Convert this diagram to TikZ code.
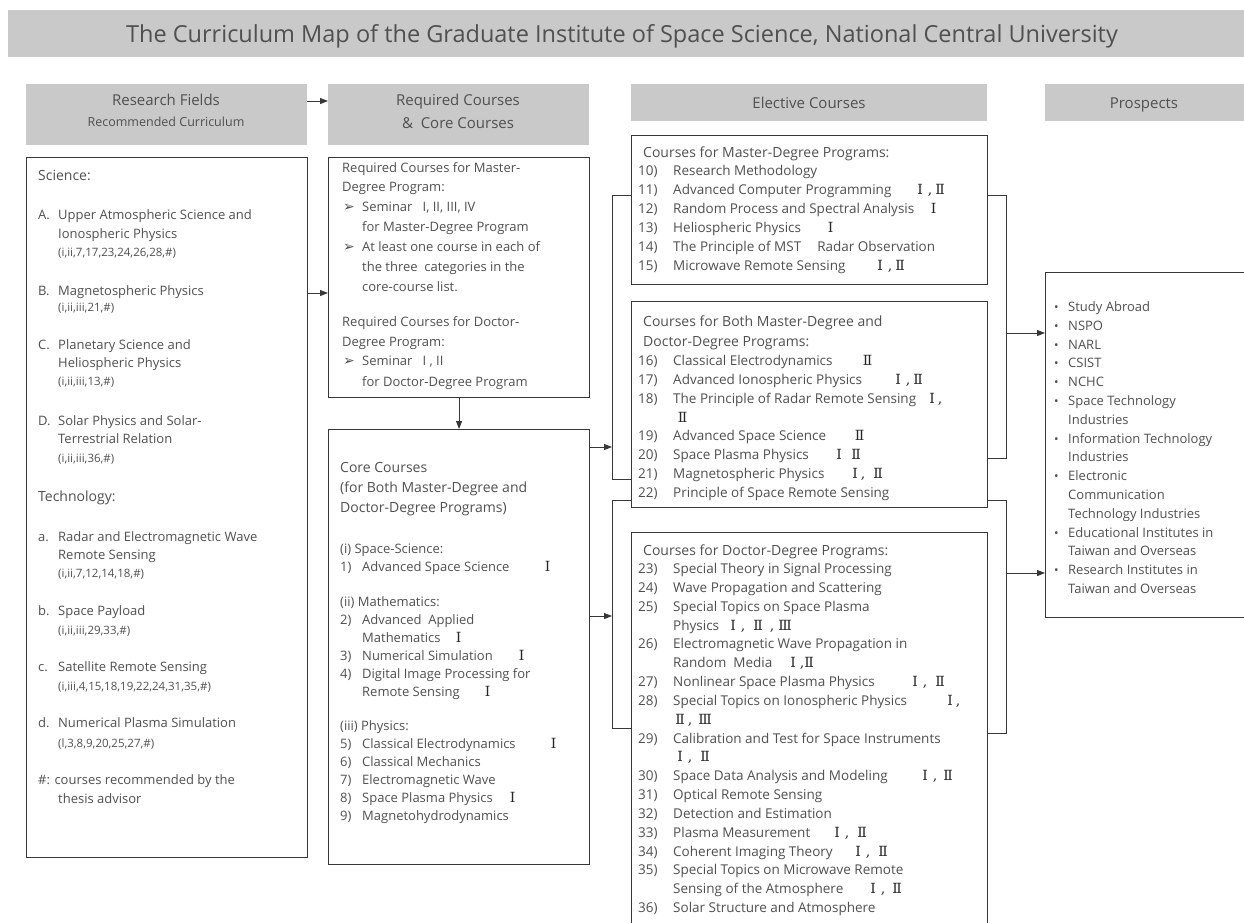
\documentclass[tikz,border=0pt]{standalone}
\usepackage{fontspec}
\setmainfont{Open Sans}
\newfontfamily\romf{DejaVu Serif}
\newfontfamily\symf{DejaVu Sans}
\usetikzlibrary{arrows.meta}
\definecolor{barc}{RGB}{201,201,201}
\definecolor{linec}{RGB}{55,55,55}
\definecolor{textc}{RGB}{80,80,80}
\newcommand\RN[1]{\makebox[0pt]{#1}}
\newcommand\NB[2]{\makebox[#1][l]{#2}}
\newcommand\arw{{\symf\fontsize{14}{14}\selectfont ➢}}
\newcommand\bul{\NB{14pt}{\fontsize{12}{12}\selectfont •}}
\begin{document}
\begin{tikzpicture}[x=1pt,y=-1pt,
 hdr/.style={fill=barc,draw=none,inner sep=0pt,anchor=north west},
 bx/.style={draw=linec,line width=1.1pt,fill=white,inner sep=0pt,anchor=north west},
 t/.style={anchor=base west,inner sep=0pt,text=textc,font=\fontsize{13}{15}\selectfont},
 ts/.style={t,font=\fontsize{11.5}{13}\selectfont},
 tb/.style={t,font=\fontsize{14}{16}\selectfont},
 te/.style={t,font=\fontsize{13.5}{15}\selectfont},
 th/.style={anchor=base,inner sep=0pt,text=textc,font=\fontsize{15}{17}\selectfont},
 rn/.style={anchor=base west,inner sep=0pt,text=black!85,font=\romf\fontsize{14}{15}\selectfont},
 conn/.style={draw=linec,line width=0.9pt},
 arr/.style={conn,-{Triangle[length=8pt,width=6pt]}}]

\path[use as bounding box] (0,0) rectangle (1244,922);

% title and headers
\node[hdr,minimum width=1252pt,minimum height=47pt] (title) at (8,10) {};
\node[anchor=base,inner sep=0pt,text=textc,font=\fontsize{23.5}{26}\selectfont] (ttl) at (622,42) {The Curriculum Map of the Graduate Institute of Space Science, National Central University};
\node[hdr,minimum width=281pt,minimum height=61pt] (hRF) at (26,84) {};
\node[hdr,minimum width=261pt,minimum height=61pt] (hRC) at (328,84) {};
\node[hdr,minimum width=356pt,minimum height=37pt] (hEC) at (631,84) {};
\node[hdr,minimum width=215pt,minimum height=37pt] (hPR) at (1045,84) {};
\node[th] (hRFt) at (166,105) {Research Fields};
\node[th,font=\fontsize{12.5}{14}\selectfont] (hRFs) at (166,126.5) {Recommended Curriculum};
\node[th] (hRCt) at (458,105) {Required Courses};
\node[th] (hRCs) at (458,128) {\&\ \ Core Courses};
\node[th] (hECt) at (809,108) {Elective Courses};
\node[th] (hPRt) at (1144,108) {Prospects};

% boxes
\node[bx,minimum width=281pt,minimum height=700pt] (left) at (26,157) {};
\node[bx,minimum width=261pt,minimum height=240pt] (req) at (328,157) {};
\node[bx,minimum width=261pt,minimum height=435pt] (core) at (328,429) {};
\node[bx,minimum width=356pt,minimum height=149pt] (mast) at (631,135) {};
\node[bx,minimum width=356pt,minimum height=206pt] (both) at (631,301) {};
\node[bx,minimum width=356pt,minimum height=420pt] (doc) at (631,532) {};
\node[bx,minimum width=230pt,minimum height=345pt] (pros) at (1045,272) {};

% connectors
\coordinate (ha) at (0,101);
\draw[arr] (hRF.east |- ha) -- (hRC.west |- ha);
\coordinate (la) at (0,293);
\draw[arr] (left.east |- la) -- (req.west |- la);
\draw[arr] (req.south) -- (core.north);
\coordinate (bl) at (612,0);
\coordinate (br) at (1006,0);
\draw[conn] (mast.west |- 0,195) -- (bl |- 0,195) -- (bl |- 0,479) -- (both.west |- 0,479);
\draw[arr] (core.east |- 0,447) -- (bl |- 0,447);
\draw[conn] (both.west |- 0,500) -- (bl |- 0,500) -- (bl |- 0,728) -- (doc.west |- 0,728);
\draw[arr] (core.east |- 0,616) -- (bl |- 0,616);
\draw[conn] (mast.east |- 0,195) -- (br |- 0,195) -- (br |- 0,458) -- (both.east |- 0,458);
\draw[arr] (br |- 0,333) -- (pros.west |- 0,333);
\draw[conn] (both.east |- 0,500) -- (br |- 0,500) -- (br |- 0,733) -- (doc.east |- 0,733);
\draw[arr] (br |- 0,573) -- (pros.west |- 0,573);

% left box
\node[tb] (s0) at (38,180) {Science:};
\node[t] (s1) at (38,219) {\NB{20pt}{A.}Upper Atmospheric Science and};
\node[t] (s2) at (58,238) {Ionospheric Physics};
\node[ts] (s3) at (58,256) {(i,ii,7,17,23,24,26,28,\#)};
\node[t] (s4) at (38,295) {\NB{20pt}{B.}Magnetospheric Physics};
\node[ts] (s5) at (58,311) {(i,ii,iii,21,\#)};
\node[t] (s6) at (38,349) {\NB{20pt}{C.}Planetary Science and};
\node[t] (s7) at (58,367) {Heliospheric Physics};
\node[ts] (s8) at (58,385) {(i,ii,iii,13,\#)};
\node[t] (s9) at (38,425) {\NB{20pt}{D.}Solar Physics and Solar-};
\node[t] (s10) at (58,443) {Terrestrial Relation};
\node[ts] (s11) at (58,462) {(i,ii,iii,36,\#)};
\node[tb] (s12) at (38,501) {Technology:};
\node[t] (s13) at (38,541) {\NB{20pt}{a.}Radar and Electromagnetic Wave};
\node[t] (s14) at (58,559) {Remote Sensing};
\node[ts] (s15) at (58,577) {(i,ii,7,12,14,18,\#)};
\node[t] (s16) at (38,615) {\NB{20pt}{b.}Space Payload};
\node[ts] (s17) at (58,634) {(i,ii,iii,29,33,\#)};
\node[t] (s18) at (38,671) {\NB{20pt}{c.}Satellite Remote Sensing};
\node[ts] (s19) at (58,690) {(i,iii,4,15,18,19,22,24,31,35,\#)};
\node[t] (s20) at (38,727) {\NB{20pt}{d.}Numerical Plasma Simulation};
\node[ts] (s21) at (58,747) {(l,3,8,9,20,25,27,\#)};
\node[t] (s22) at (38,784) {\#: courses recommended by the};
\node[t] (s23) at (58,803) {thesis advisor};

% required box
\node[t] (q1) at (342,172.5) {Required Courses for Master-};
\node[t] (q2) at (342,191.5) {Degree Program:};
\node[t] (q3) at (343,211.5) {\NB{19pt}{\arw}Seminar\ \ \ I, II, III, IV};
\node[t] (q4) at (362,231.5) {for Master-Degree Program};
\node[t] (q5) at (343,251.5) {\NB{19pt}{\arw}At least one course in each of};
\node[t] (q6) at (362,271.5) {the three\ \ categories in the};
\node[t] (q7) at (362,291.5) {core-course list.};
\node[t] (q8) at (342,326.5) {Required Courses for Doctor-};
\node[t] (q9) at (342,346.5) {Degree Program:};
\node[t] (q10) at (343,365.5) {\NB{19pt}{\arw}Seminar\ \ \ I , II};
\node[t] (q11) at (362,386.5) {for Doctor-Degree Program};

% core box
\node[tb] (c1) at (340,472) {Core Courses};
\node[tb] (c2) at (340,492) {(for Both Master-Degree and};
\node[tb] (c3) at (340,512) {Doctor-Degree Programs)};
\node[t] (c4) at (340,553.5) {(i) Space-Science:};
\node[t] (c5) at (340,571.5) {\NB{22pt}{1)}Advanced Space Science};
\node[rn] (c5r) at (547,571.5) {\RN{Ⅰ}};
\node[t] (c6) at (340,606.5) {(ii) Mathematics:};
\node[t] (c7) at (340,624.5) {\NB{22pt}{2)}Advanced\ \ Applied};
\node[t] (c8) at (362,642.5) {Mathematics};
\node[rn] (c8r) at (458,642.5) {\RN{Ⅰ}};
\node[t] (c9) at (340,660.5) {\NB{22pt}{3)}Numerical Simulation};
\node[rn] (c9r) at (521,660.5) {\RN{Ⅰ}};
\node[t] (c10) at (340,678.5) {\NB{22pt}{4)}Digital Image Processing for};
\node[t] (c11) at (362,696.5) {Remote Sensing};
\node[rn] (c11r) at (487,696.5) {\RN{Ⅰ}};
\node[t] (c12) at (340,730.5) {(iii) Physics:};
\node[t] (c13) at (340,748.5) {\NB{22pt}{5)}Classical Electrodynamics};
\node[rn] (c13r) at (553,748.5) {\RN{Ⅰ}};
\node[t] (c14) at (340,766.5) {\NB{22pt}{6)}Classical Mechanics};
\node[t] (c15) at (340,784.5) {\NB{22pt}{7)}Electromagnetic Wave};
\node[t] (c16) at (340,802.5) {\NB{22pt}{8)}Space Plasma Physics};
\node[rn] (c16r) at (512,802.5) {\RN{Ⅰ}};
\node[t] (c17) at (340,820.5) {\NB{22pt}{9)}Magnetohydrodynamics};

% master elective box
\node[tb] (m0) at (643,157) {Courses for Master-Degree Programs:};
\node[te] (m1) at (638,175.5) {\NB{35pt}{10)}Research Methodology};
\node[te] (m2) at (638,194.5) {\NB{35pt}{11)}Advanced Computer Programming};
\node[rn] (m2r) at (920,194.5) {\RN{Ⅰ}\hspace{10pt}\RN{,}\hspace{10pt}\RN{Ⅱ}};
\node[te] (m3) at (638,213.5) {\NB{35pt}{12)}Random Process and Spectral Analysis};
\node[rn] (m3r) at (933,213.5) {\RN{Ⅰ}};
\node[te] (m4) at (638,232.5) {\NB{35pt}{13)}Heliospheric Physics};
\node[rn] (m4r) at (830,232.5) {\RN{Ⅰ}};
\node[te] (m5) at (638,251.5) {\NB{35pt}{14)}The Principle of MST\hspace{16pt}Radar Observation};
\node[te] (m6) at (638,270.5) {\NB{35pt}{15)}Microwave Remote Sensing};
\node[rn] (m6r) at (880,270.5) {\RN{Ⅰ}\hspace{10pt}\RN{,}\hspace{10pt}\RN{Ⅱ}};

% both elective box
\node[tb] (b0) at (643,326) {Courses for Both Master-Degree and};
\node[tb] (b1) at (643,346) {Doctor-Degree Programs:};
\node[te] (b2) at (638,365.5) {\NB{35pt}{16)}Classical Electrodynamics};
\node[rn] (b2r) at (867,365.5) {\RN{Ⅱ}};
\node[te] (b3) at (638,384.4) {\NB{35pt}{17)}Advanced Ionospheric Physics};
\node[rn] (b3r) at (898,384.4) {\RN{Ⅰ}\hspace{10pt}\RN{,}\hspace{10pt}\RN{Ⅱ}};
\node[te] (b4) at (638,403.2) {\NB{35pt}{18)}The Principle of Radar Remote Sensing};
\node[rn] (b4r) at (932,403.2) {\RN{Ⅰ}\hspace{8pt}\RN{,}};
\node[rn] (b5r) at (682,422.1) {\RN{Ⅱ}};
\node[te] (b6) at (638,440.9) {\NB{35pt}{19)}Advanced Space Science};
\node[rn] (b6r) at (859,440.9) {\RN{Ⅱ}};
\node[te] (b7) at (638,459.8) {\NB{35pt}{20)}Space Plasma Physics};
\node[rn] (b7r) at (839,459.8) {\RN{Ⅰ}\hspace{17pt}\RN{Ⅱ}};
\node[te] (b8) at (638,478.6) {\NB{35pt}{21)}Magnetospheric Physics};
\node[rn] (b8r) at (855,478.6) {\RN{Ⅰ}\hspace{8pt}\RN{,}\hspace{15pt}\RN{Ⅱ}};
\node[te] (b9) at (638,497.5) {\NB{35pt}{22)}Principle of Space Remote Sensing};

% doctor elective box
\node[tb] (d0) at (643,555) {Courses for Doctor-Degree Programs:};
\node[te] (d1) at (638,573.5) {\NB{35pt}{23)}Special Theory in Signal Processing};
\node[te] (d2) at (638,592.3) {\NB{35pt}{24)}Wave Propagation and Scattering};
\node[te] (d3) at (638,611.2) {\NB{35pt}{25)}Special Topics on Space Plasma};
\node[te] (d4) at (673,630) {Physics};
\node[rn] (d4r) at (733,630) {\RN{Ⅰ}\hspace{10pt}\RN{,}\hspace{15pt}\RN{Ⅱ}\hspace{14pt}\RN{,}\hspace{13pt}\RN{Ⅲ}};
\node[te] (d5) at (638,648.8) {\NB{35pt}{26)}Electromagnetic Wave Propagation in};
\node[te] (d6) at (673,667.7) {Random\ \ Media};
\node[rn] (d6r) at (793,667.7) {\RN{Ⅰ}\hspace{9pt}\RN{,}\hspace{7pt}\RN{Ⅱ}};
\node[te] (d7) at (638,686.5) {\NB{35pt}{27)}Nonlinear Space Plasma Physics};
\node[rn] (d7r) at (915,686.5) {\RN{Ⅰ}\hspace{10pt}\RN{,}\hspace{15pt}\RN{Ⅱ}};
\node[te] (d8) at (638,705.3) {\NB{35pt}{28)}Special Topics on Ionospheric Physics};
\node[rn] (d8r) at (950,705.3) {\RN{Ⅰ}\hspace{8pt}\RN{,}};
\node[rn] (d9r) at (680,724.2) {\RN{Ⅱ}\hspace{10pt}\RN{,}\hspace{15pt}\RN{Ⅲ}};
\node[te] (d10) at (638,743) {\NB{35pt}{29)}Calibration and Test for Space Instruments};
\node[rn] (d11r) at (680,761.8) {\RN{Ⅰ}\hspace{10pt}\RN{,}\hspace{15pt}\RN{Ⅱ}};
\node[te] (d12) at (638,780.7) {\NB{35pt}{30)}Space Data Analysis and Modeling};
\node[rn] (d12r) at (925,780.7) {\RN{Ⅰ}\hspace{10pt}\RN{,}\hspace{13pt}\RN{Ⅱ}};
\node[te] (d13) at (638,799.5) {\NB{35pt}{31)}Optical Remote Sensing};
\node[te] (d14) at (638,818.3) {\NB{35pt}{32)}Detection and Estimation};
\node[te] (d15) at (638,837.2) {\NB{35pt}{33)}Plasma Measurement};
\node[rn] (d15r) at (837,837.2) {\RN{Ⅰ}\hspace{10pt}\RN{,}\hspace{15pt}\RN{Ⅱ}};
\node[te] (d16) at (638,856) {\NB{35pt}{34)}Coherent Imaging Theory};
\node[rn] (d16r) at (858,856) {\RN{Ⅰ}\hspace{10pt}\RN{,}\hspace{15pt}\RN{Ⅱ}};
\node[te] (d17) at (638,874.8) {\NB{35pt}{35)}Special Topics on Microwave Remote};
\node[te] (d18) at (673,893.7) {Sensing of the Atmosphere};
\node[rn] (d18r) at (873,893.7) {\RN{Ⅰ}\hspace{10pt}\RN{,}\hspace{14pt}\RN{Ⅱ}};
\node[te] (d19) at (638,912.5) {\NB{35pt}{36)}Solar Structure and Atmosphere};

% prospects
\node[t] (p1) at (1054,311.5) {\bul Study Abroad};
\node[t] (p2) at (1054,330.3) {\bul NSPO};
\node[t] (p3) at (1054,349.1) {\bul NARL};
\node[t] (p4) at (1054,367.9) {\bul CSIST};
\node[t] (p5) at (1054,386.7) {\bul NCHC};
\node[t] (p6) at (1054,405.5) {\bul Space Technology};
\node[t] (p7) at (1068,424.3) {Industries};
\node[t] (p8) at (1054,443.1) {\bul Information Technology};
\node[t] (p9) at (1068,461.9) {Industries};
\node[t] (p10) at (1054,480.7) {\bul Electronic};
\node[t] (p11) at (1068,499.5) {Communication};
\node[t] (p12) at (1068,518.3) {Technology Industries};
\node[t] (p13) at (1054,537.1) {\bul Educational Institutes in};
\node[t] (p14) at (1068,555.9) {Taiwan and Overseas};
\node[t] (p15) at (1054,574.7) {\bul Research Institutes in};
\node[t] (p16) at (1068,593.5) {Taiwan and Overseas};
\end{tikzpicture}
\end{document}
